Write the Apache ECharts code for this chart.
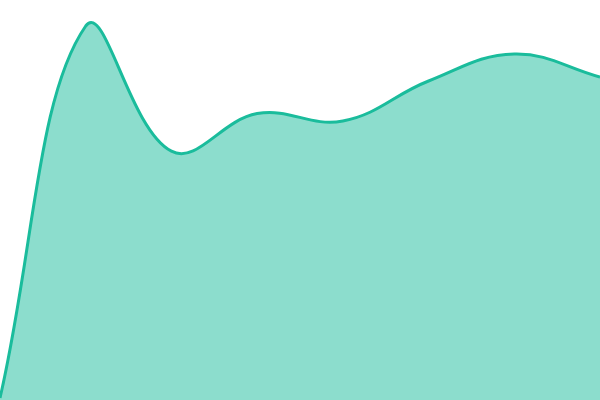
<!DOCTYPE html>
<html>
<head>
<meta charset="utf-8">
<script src="https://cdn.jsdelivr.net/npm/echarts@6/dist/echarts.min.js"></script>
<style>html,body{margin:0;padding:0;background:#fff}#c{width:600px;height:400px}</style>
</head>
<body>
<div id="c"></div>
<script>
const categories = ['1', '2', '3', '4', '5', '6', '7', '8'];
const values = [0.5, 93.5, 62.2, 71.6, 69.75, 79.75, 86.5, 80.75];
const yMin = 0;
const yMax = 100;
const tension = 0.4;

function renderCurve(params, api) {
  if (params.dataIndex !== 0) return null;
  const cs = params.coordSys;
  const pts = values.map((v, i) => api.coord([i, v]));
  const base = api.coord([0, yMin])[1];
  const clampPt = p => [
    Math.min(Math.max(p[0], cs.x), cs.x + cs.width),
    Math.min(Math.max(p[1], cs.y), cs.y + cs.height)
  ];
  const cps = pts.map((cur, i) => {
    const prev = pts[i - 1] || cur;
    const next = pts[i + 1] || cur;
    const d01 = Math.hypot(cur[0] - prev[0], cur[1] - prev[1]);
    const d12 = Math.hypot(next[0] - cur[0], next[1] - cur[1]);
    let s01 = d01 / (d01 + d12);
    let s12 = d12 / (d01 + d12);
    if (!isFinite(s01)) s01 = 0;
    if (!isFinite(s12)) s12 = 0;
    const fa = tension * s01, fb = tension * s12;
    const dx = next[0] - prev[0], dy = next[1] - prev[1];
    return {
      prev: clampPt([cur[0] - fa * dx, cur[1] - fa * dy]),
      next: clampPt([cur[0] + fb * dx, cur[1] + fb * dy])
    };
  });
  let d = 'M' + pts[0][0] + ' ' + pts[0][1];
  for (let i = 1; i < pts.length; i++) {
    d += ' C' + cps[i - 1].next[0] + ' ' + cps[i - 1].next[1] + ' ' +
      cps[i].prev[0] + ' ' + cps[i].prev[1] + ' ' + pts[i][0] + ' ' + pts[i][1];
  }
  const last = pts[pts.length - 1];
  const area = d + ' L' + last[0] + ' ' + base + ' L' + pts[0][0] + ' ' + base + ' Z';
  return {
    type: 'group',
    children: [
      { type: 'path', shape: { pathData: area }, style: { fill: 'rgba(26,188,156,0.5)', stroke: 'none' } },
      { type: 'path', shape: { pathData: d }, style: { fill: 'none', stroke: '#1abc9c', lineWidth: 3, lineJoin: 'round' } }
    ]
  };
}

const chart = echarts.init(document.getElementById('c'));
chart.setOption({
  animation: false,
  grid: { left: 0, right: 0, top: 0, bottom: 0 },
  xAxis: { type: 'category', data: categories, boundaryGap: false, show: false },
  yAxis: { type: 'value', min: yMin, max: yMax, show: false },
  series: [{
    type: 'custom',
    coordinateSystem: 'cartesian2d',
    data: values.map((v, i) => [i, v]),
    renderItem: renderCurve
  }]
});
</script>
</body>
</html>
